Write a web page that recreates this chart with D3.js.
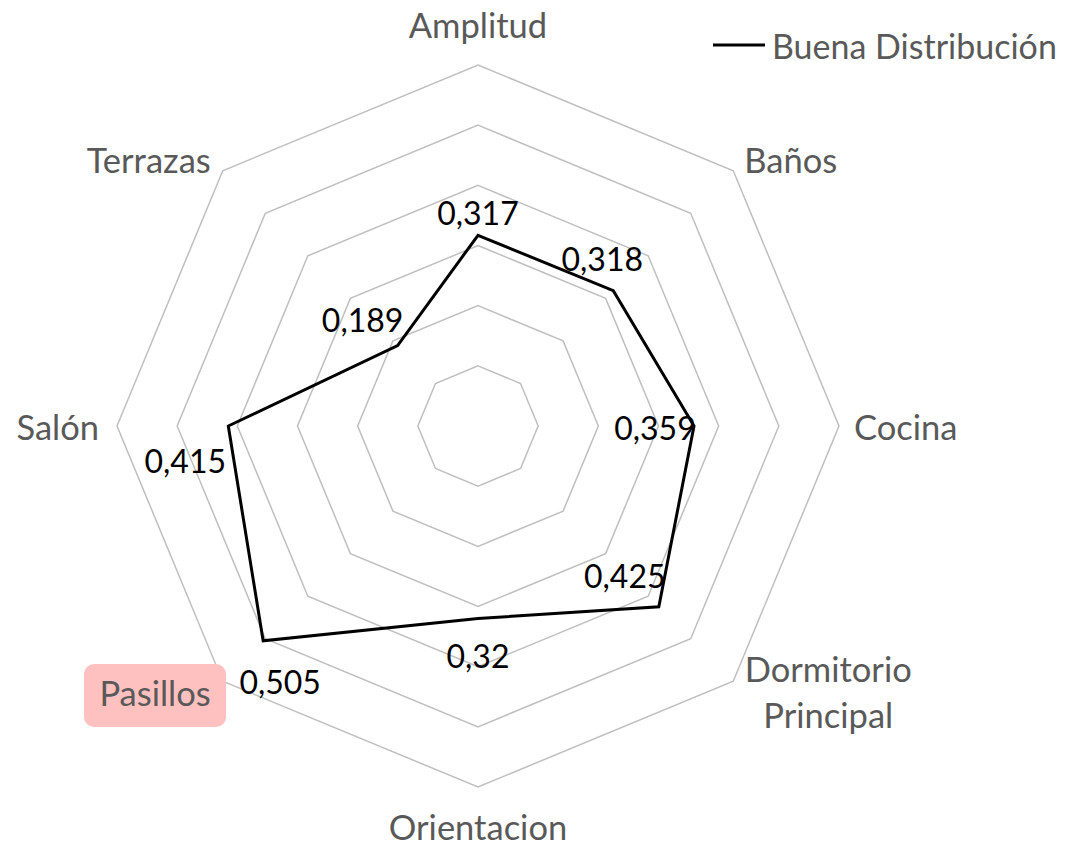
<!DOCTYPE html>
<html><head><meta charset="utf-8">
<script src="https://cdn.jsdelivr.net/npm/d3@7"></script>
<style>body{margin:0;background:#fff}svg{display:block}text{font-family:Lato,"Noto Sans",sans-serif}</style>
</head><body><svg id="c" width="1066" height="842"></svg>
<script>
const categories = ["Amplitud","Baños","Cocina","Dormitorio Principal","Orientacion","Pasillos","Salón","Terrazas"];
const values = [0.317,0.318,0.359,0.425,0.32,0.505,0.415,0.189];
const valueLabels = ["0,317","0,318","0,359","0,425","0,32","0,505","0,415","0,189"];
const ringTicks = [0.1,0.2,0.3,0.4,0.5,0.6];
const seriesName = "Buena Distribución";
// layout (label nudges in px, not data)
const dataLabelOffsets = [[0,-23],[-11,-32],[-39,1],[-34,-31],[0,37],[17,41],[-43,34],[-35,-26]];

const svg = d3.select("#c");
const cx = 478, cy = 426;
const r = d3.scaleLinear().domain([0,0.6]).range([0,361]);
const n = categories.length;
const ang = i => -Math.PI/2 + i*2*Math.PI/n;
const pt = (v,i) => [cx + r(v)*Math.cos(ang(i)), cy + r(v)*Math.sin(ang(i))];

const line = d3.line().curve(d3.curveLinearClosed);
svg.append("g").selectAll("path").data(ringTicks).join("path")
  .attr("d", t => line(d3.range(n).map(i => pt(t,i))))
  .attr("fill","none").attr("stroke","#bfbfbf").attr("stroke-width",1.5);

svg.append("path").attr("d", line(values.map((v,i)=>pt(v,i))))
  .attr("fill","none").attr("stroke","#000").attr("stroke-width",3).attr("stroke-linejoin","miter");

// data labels
svg.append("g").selectAll("text").data(values).join("text")
  .attr("x",(v,i)=>pt(v,i)[0]+dataLabelOffsets[i][0])
  .attr("y",(v,i)=>pt(v,i)[1]+dataLabelOffsets[i][1])
  .attr("text-anchor","middle").attr("dominant-baseline","central")
  .attr("font-size",32).attr("fill","#000").text((v,i)=>valueLabels[i]);

// category labels
const maxV = r.domain()[1];
const g = svg.append("g");
categories.forEach((c,i)=>{
  const [x,y] = pt(maxV,i);
  const ca = Math.cos(ang(i)), sa = Math.sin(ang(i));
  let anchor = "middle", tx = x, ty = y;
  if (Math.abs(ca) < 0.01) { ty = y + (sa<0 ? -41 : 39); }
  else if (Math.abs(sa) < 0.01) { anchor = ca>0?"start":"end"; tx = x + (ca>0?15:-18); }
  else { anchor = ca>0?"start":"end"; tx = x + (ca>0?11:-12); ty = y + (sa<0?-11:11); }
  const words = c === "Dormitorio Principal" ? ["Dormitorio","Principal"] : [c];
  if (words.length>1) { anchor="middle"; tx = x + 95; ty = y + 10; }
  const t = g.append("text").attr("x",tx).attr("y",ty).attr("text-anchor",anchor)
    .attr("font-size",34.5).attr("fill","#595959");
  words.forEach((w,k)=>{
    t.append("tspan").attr("x",tx).attr("y", ty + (k-(words.length-1)/2)*46)
      .attr("dominant-baseline","central").text(w);
  });
  if (c === "Pasillos") {
    g.insert("rect", () => t.node()).attr("x",84).attr("y",664).attr("width",142).attr("height",63)
      .attr("rx",10).attr("fill","#ffc0c0");
  }
});

// legend
const lg = svg.append("g");
lg.append("line").attr("x1",713).attr("x2",765).attr("y1",45).attr("y2",45).attr("stroke","#000").attr("stroke-width",3);
lg.append("text").attr("x",772).attr("y",45).attr("dominant-baseline","central")
  .attr("font-size",34).attr("fill","#595959").text(seriesName);
</script></body></html>
